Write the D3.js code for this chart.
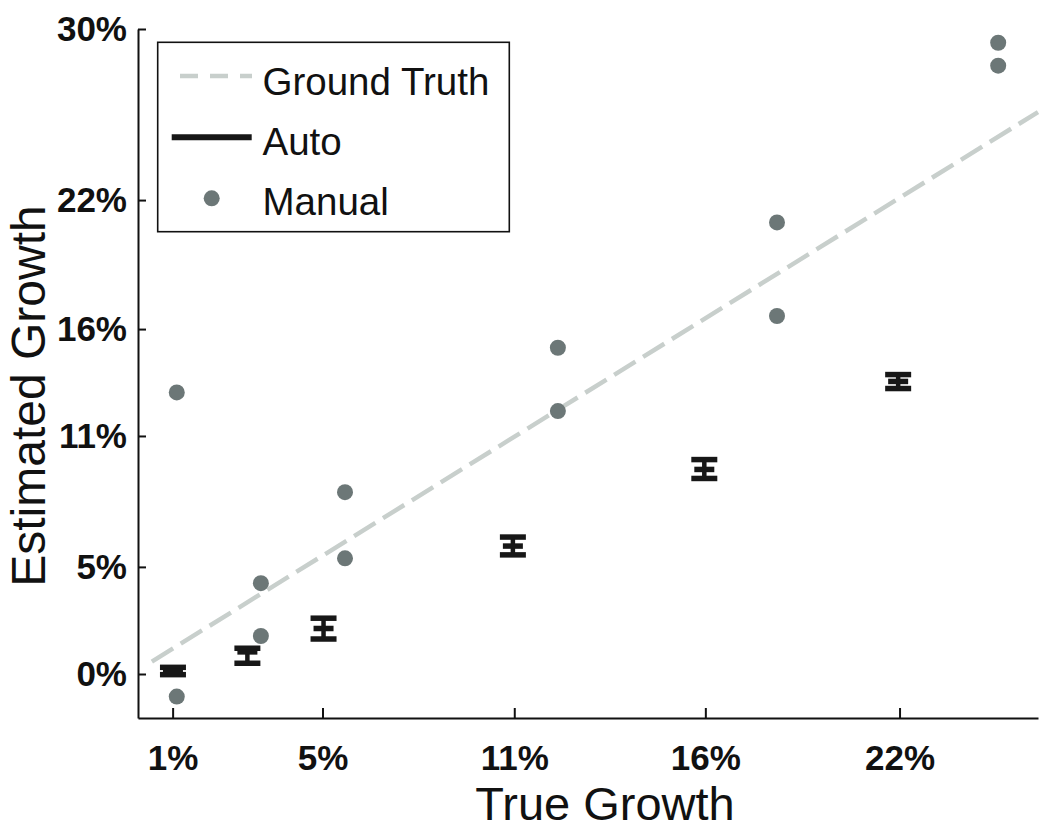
<!DOCTYPE html>
<html>
<head>
<meta charset="utf-8">
<script src="https://cdn.jsdelivr.net/npm/d3@7"></script>
<style>
  html, body { margin: 0; padding: 0; background: #fff; }
  svg { display: block; }
</style>
</head>
<body>
<svg id="chart" width="1050" height="836"></svg>
<script>
// ---- data (percent units) ----
const xTickValues = [1.0, 5.33, 10.87, 16.39, 22.0];
const xTickLabels = ["1%", "5%", "11%", "16%", "22%"];
const yTickValues = [-0.18, 4.81, 10.91, 15.89, 21.9, 29.87];
const yTickLabels = ["0%", "5%", "11%", "16%", "22%", "30%"];

const groundTruthX = [0.4, 26.0];
const groundTruthY = [0.4, 26.0];

const autoX    = [1.01, 3.16, 5.36, 10.83, 16.36, 21.96];
const autoMean = [-0.04, 0.85, 1.94, 5.78, 9.35, 13.45];
const autoLow  = [-0.21, 0.32, 1.45, 5.37, 8.93, 13.12];
const autoHigh = [0.13, 1.02, 2.42, 6.20, 9.81, 13.77];

const manualX = [1.12, 1.12, 3.55, 3.55, 5.98, 5.98, 12.13, 12.13, 18.46, 18.46, 24.85, 24.85];
const manualY = [12.94, -1.23, 4.05, 1.59, 8.29, 5.21, 15.02, 12.07, 20.86, 16.5, 29.23, 28.16];

const legendLabels = ["Ground Truth", "Auto", "Manual"];

// ---- drawing ----
const FONT = "'Liberation Sans', Arial, Helvetica, sans-serif";
const svg = d3.select("#chart");

const x = d3.scaleLinear().domain([0, 26.0]).range([138, 1038]);
const y = d3.scaleLinear().domain([-2.23, 29.87]).range([718, 29]);

// axes
const xAxis = d3.axisBottom(x)
  .tickValues(xTickValues)
  .tickFormat((d, i) => xTickLabels[i])
  .tickSizeInner(-10).tickSizeOuter(0).tickPadding(27);
const yAxis = d3.axisLeft(y)
  .tickValues(yTickValues)
  .tickFormat((d, i) => yTickLabels[i])
  .tickSizeInner(-8).tickSizeOuter(0).tickPadding(11);

const gx = svg.append("g").attr("transform", "translate(0,718)").call(xAxis);
const gy = svg.append("g").attr("transform", "translate(138,0)").call(yAxis);
[gx, gy].forEach(g => {
  g.select(".domain").attr("stroke", "#111").attr("stroke-width", 2);
  g.selectAll(".tick line").attr("stroke", "#111").attr("stroke-width", 2);
  g.selectAll(".tick text")
    .attr("fill", "#111")
    .style("font-family", FONT)
    .style("font-size", "35px")
    .style("font-weight", "bold");
});

// ground truth dashed line
const gtData = groundTruthX.map((d, i) => [d, groundTruthY[i]]);
svg.append("path")
  .datum(gtData)
  .attr("d", d3.line().x(d => x(d[0])).y(d => y(d[1])))
  .attr("fill", "none")
  .attr("stroke", "#c8cfcc")
  .attr("stroke-width", 4.5)
  .attr("stroke-dasharray", "25,9");

// auto error bars
const autoData = autoX.map((d, i) => ({ x: d, m: autoMean[i], lo: autoLow[i], hi: autoHigh[i] }));
const eb = svg.append("g").attr("stroke", "#171717").attr("fill", "none");
const capW = 13, midW = 10;
autoData.forEach(d => {
  const cx = x(d.x);
  eb.append("line").attr("x1", cx).attr("x2", cx).attr("y1", y(d.lo)).attr("y2", y(d.hi)).attr("stroke-width", 4.5);
  eb.append("line").attr("x1", cx - capW).attr("x2", cx + capW).attr("y1", y(d.hi)).attr("y2", y(d.hi)).attr("stroke-width", 5.5);
  eb.append("line").attr("x1", cx - capW).attr("x2", cx + capW).attr("y1", y(d.lo)).attr("y2", y(d.lo)).attr("stroke-width", 5.5);
  eb.append("line").attr("x1", cx - midW).attr("x2", cx + midW).attr("y1", y(d.m)).attr("y2", y(d.m)).attr("stroke-width", 5.5);
});

// manual points
svg.append("g").selectAll("circle")
  .data(manualX.map((d, i) => [d, manualY[i]]))
  .join("circle")
  .attr("cx", d => x(d[0]))
  .attr("cy", d => y(d[1]))
  .attr("r", 8)
  .attr("fill", "#6c7777");

// legend
const lg = svg.append("g");
lg.append("rect")
  .attr("x", 157.7).attr("y", 42.3).attr("width", 351.6).attr("height", 189.4)
  .attr("fill", "#fff").attr("stroke", "#111").attr("stroke-width", 1.6);
lg.append("line").attr("x1", 180).attr("x2", 252).attr("y1", 76).attr("y2", 76)
  .attr("stroke", "#c8cfcc").attr("stroke-width", 4.5).attr("stroke-dasharray", "18,12");
lg.append("line").attr("x1", 171.7).attr("x2", 251.7).attr("y1", 137.3).attr("y2", 137.3)
  .attr("stroke", "#171717").attr("stroke-width", 6);
lg.append("circle").attr("cx", 211.7).attr("cy", 198.3).attr("r", 8).attr("fill", "#6c7777");
const lgBase = [95, 155, 215];
lg.selectAll("text.lt")
  .data(legendLabels)
  .join("text")
  .attr("class", "lt")
  .attr("x", 262.5)
  .attr("y", (d, i) => lgBase[i])
  .attr("fill", "#111")
  .style("font-family", FONT)
  .style("font-size", "38.5px")
  .text(d => d);

// axis titles
svg.append("text")
  .attr("x", 605).attr("y", 820)
  .attr("text-anchor", "middle")
  .attr("fill", "#111")
  .style("font-family", FONT).style("font-size", "47px")
  .text("True Growth");
svg.append("text")
  .attr("transform", "translate(44.5,396) rotate(-90)")
  .attr("text-anchor", "middle")
  .attr("fill", "#111")
  .style("font-family", FONT).style("font-size", "48px")
  .text("Estimated Growth");
</script>
</body>
</html>
